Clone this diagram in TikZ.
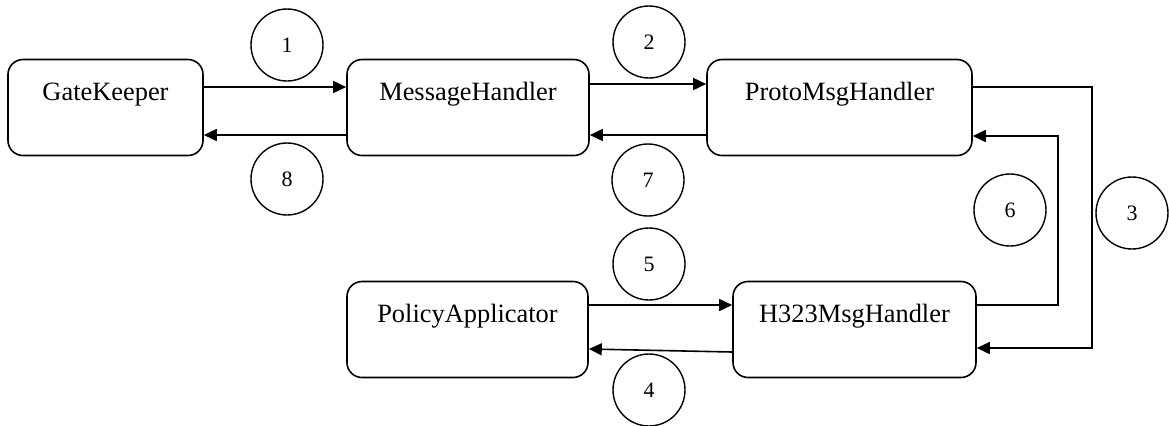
\documentclass[tikz,border=0pt]{standalone}
\usepackage{fontspec}
\setmainfont{Liberation Serif}
\usetikzlibrary{arrows.meta}
\begin{document}
\begin{tikzpicture}[x=0.5pt,y=-0.5pt,
  box/.style={draw,line width=0.8pt,rounded corners=7.5pt,inner xsep=0pt,inner ysep=0pt,
    text height=20.5pt,text depth=27.5pt,font=\fontsize{13.2}{15}\selectfont},
  num/.style={draw,circle,line width=0.7pt,minimum size=36pt,inner sep=0pt,font=\fontsize{11}{13}\selectfont},
  arr/.style={line width=0.8pt,-{Triangle[length=6.5pt,width=6pt]}},
  ln/.style={line width=0.8pt}]
\useasboundingbox (0,0) rectangle (1169,425);
% boxes
\node[box,minimum width=97.5pt] (gk) at (105.5,107.5) {GateKeeper};
\node[box,minimum width=121pt] (mh) at (468,107.5) {MessageHandler};
\node[box,minimum width=132.5pt] (pm) at (839.5,107.5) {ProtoMsgHandler};
\node[box,minimum width=120.5pt] (pa) at (467.5,329.5) {PolicyApplicator};
\node[box,minimum width=121.5pt] (h3) at (854.5,329.5) {H323MsgHandler};
% circles
\node[num] (c1) at (287,45) {1};
\node[num] (c2) at (649,42) {2};
\node[num] (c8) at (287,179) {8};
\node[num] (c7) at (648,180) {7};
\node[num] (c6) at (1010,210) {6};
\node[num] (c3) at (1132,213) {3};
\node[num] (c5) at (649,264) {5};
\node[num] (c4) at (649,390) {4};
% coordinates for bends
\coordinate (b3a) at (1092,87);
\coordinate (b3b) at (1092,348);
\coordinate (b6a) at (1058,305);
\coordinate (b6b) at (1058,136);
% connectors
\draw[arr] (gk.east |- 0,87) -- (mh.west |- 0,87);
\draw[arr] (mh.west |- 0,135) -- (gk.east |- 0,135);
\draw[arr] (mh.east |- 0,84) -- (pm.west |- 0,84);
\draw[arr] (pm.west |- 0,135) -- (mh.east |- 0,135);
\draw[arr] (pm.east |- b3a) -- (b3a) -- (b3b) -- (h3.east |- b3b);
\draw[arr] (h3.east |- b6a) -- (b6a) -- (b6b) -- (pm.east |- b6b);
\draw[arr] (pa.east |- 0,305) -- (h3.west |- 0,305);
\draw[arr] (h3.west |- 0,352) -- (pa.east |- 0,349);
\end{tikzpicture}
\end{document}
